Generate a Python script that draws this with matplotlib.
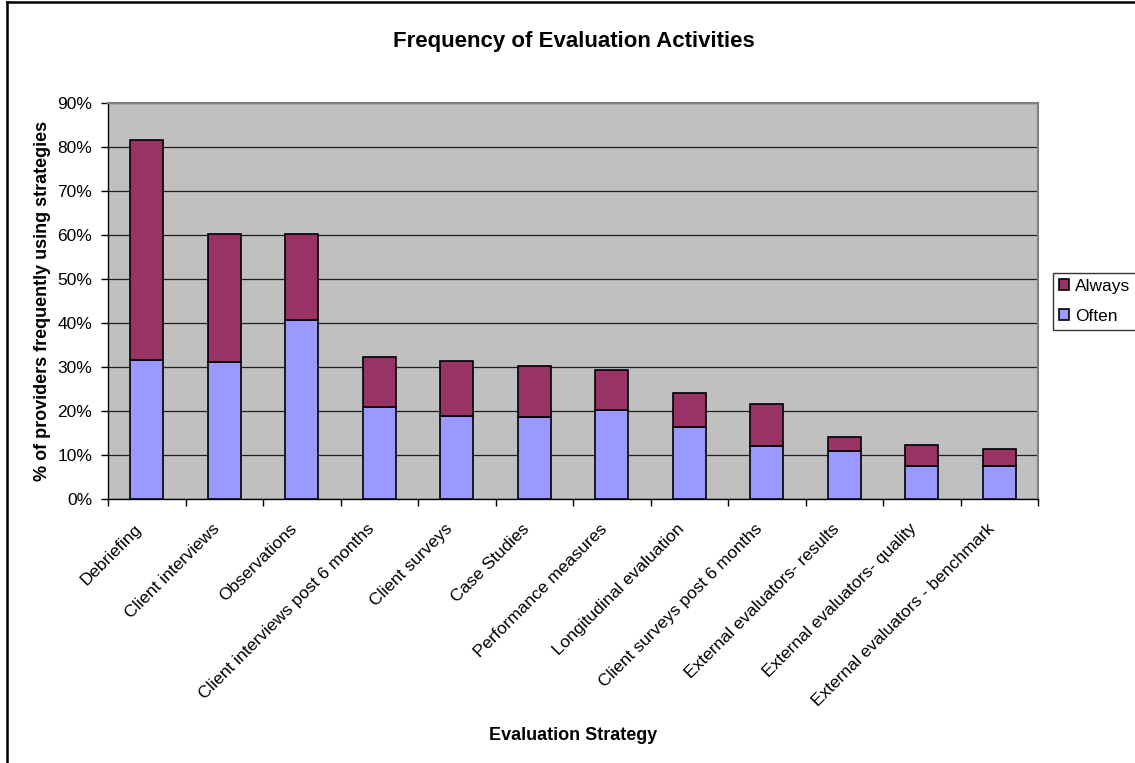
import numpy as np
import matplotlib
matplotlib.use("Agg")
import matplotlib.pyplot as plt
from matplotlib.ticker import PercentFormatter
from matplotlib.lines import Line2D
from matplotlib.transforms import ScaledTranslation

plt.rcParams['font.family'] = ['Liberation Sans', 'DejaVu Sans']

# Daten
strategies = ["Debriefing", "Client interviews", "Observations",
              "Client interviews post 6 months", "Client surveys", "Case Studies",
              "Performance measures", "Longitudinal evaluation",
              "Client surveys post 6 months", "External evaluators- results",
              "External evaluators- quality", "External evaluators - benchmark"]
often = [31.6, 31.2, 40.6, 20.9, 18.9, 18.7, 20.2, 16.4, 12.0, 10.8, 7.5, 7.5]
total = [81.7, 60.2, 60.2, 32.3, 31.3, 30.3, 29.4, 24.0, 21.5, 14.2, 12.3, 11.4]
always = [t - o for t, o in zip(total, often)]

fig = plt.figure(figsize=(11.35, 7.63), dpi=100)
ax = fig.add_axes([108/1135, 1 - 499/763, 930/1135, 396/763])
ax.set_facecolor("#C0C0C0")

x = np.arange(len(strategies))
ax.bar(x, often, width=0.42, color="#9999FF", edgecolor="black", linewidth=1.2, label="Often", zorder=3)
ax.bar(x, always, width=0.42, bottom=often, color="#993366", edgecolor="black", linewidth=1.2, label="Always", zorder=3)

ax.set_xlim(-0.5, len(strategies) - 0.5)
ax.set_ylim(0, 90)
ax.set_yticks(np.arange(0, 91, 10))
ax.yaxis.set_major_formatter(PercentFormatter(decimals=0))
ax.yaxis.grid(True, color="#202020", linewidth=0.9)
ax.set_axisbelow(True)

ax.set_xticks(x)
ax.set_xticklabels(strategies, rotation=45, ha="right", va="center", rotation_mode="anchor", fontsize=12.5)
ax.set_xticks(np.arange(-0.5, len(strategies), 1), minor=True)
ax.tick_params(axis="x", which="major", length=0, pad=15)
ax.tick_params(axis="x", which="minor", length=5, width=1, direction="out")
ax.tick_params(axis="y", length=5, width=1, direction="out", labelsize=12.5, pad=6.5)

# Beschriftungen etwas nach links unten schieben
shift = ScaledTranslation(-0.07, -0.065, fig.dpi_scale_trans)
for lbl in ax.get_xticklabels():
    lbl.set_transform(lbl.get_transform() + shift)

for s in ["left", "bottom"]:
    ax.spines[s].set_color("black")
    ax.spines[s].set_linewidth(1)
for s in ["top", "right"]:
    ax.spines[s].set_color("#808080")
    ax.spines[s].set_linewidth(1.5)

ax.set_ylabel("% of providers frequently using strategies", fontsize=13, fontweight="bold")
ax.yaxis.set_label_coords(-0.061, 0.5)
ax.set_xlabel("Evaluation Strategy", fontsize=13, fontweight="bold")
ax.xaxis.set_label_coords(0.5, -0.575)

fig.text(574/1135, 1 - 42/763, "Frequency of Evaluation Activities",
         ha="center", va="center", fontsize=16, fontweight="bold")

handles, labels = ax.get_legend_handles_labels()
leg = fig.legend(handles[::-1], labels[::-1], loc="upper left",
                 bbox_to_anchor=(1053/1135, 1 - 273/763), fontsize=12.5,
                 frameon=True, fancybox=False, shadow=False,
                 handlelength=0.6, handleheight=0.6, handletextpad=0.3,
                 borderpad=0.35, labelspacing=0.85, borderaxespad=0)
leg.get_frame().set_edgecolor("black")
leg.get_frame().set_linewidth(1)

# Rahmen um das Diagramm
fig.add_artist(Line2D([7/1135, 7/1135], [0, 1 - 2/763], transform=fig.transFigure, color="black", linewidth=1.8))
fig.add_artist(Line2D([7/1135, 1], [1 - 2/763, 1 - 2/763], transform=fig.transFigure, color="black", linewidth=1.8))

fig.savefig("out.png", dpi=100)
